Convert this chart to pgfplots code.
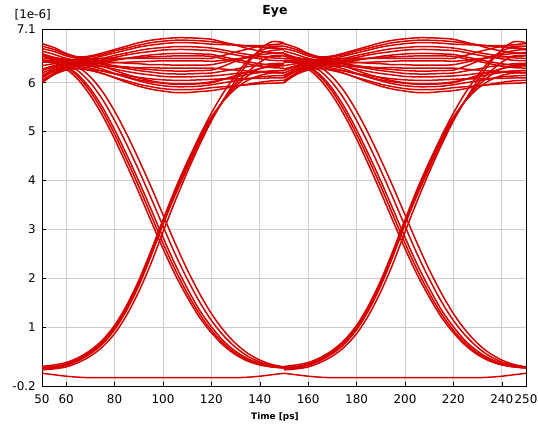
\documentclass[border=0pt]{standalone}
\usepackage{pgfplots}
\pgfplotsset{compat=1.18}
\usepackage{pgfplotstable}
\usepackage{fontspec}
\setmainfont{DejaVu Sans}

\definecolor{tracered}{RGB}{215,0,0}
\definecolor{gridgray}{RGB}{205,205,205}

% One unit interval of the eye (50..150 ps); xB places the same segments on 150..250 ps.
% f0..f4: falling edges, r1..r5: rising edges, lo: steady low, h1..h20: steady high.
\pgfplotstableread{
x   xB  f0   f1   f2   f3   f4   r1   r2   r3   r4   r5   lo    h1   h2   h3   h4   h5   h6   h7   h8   h9   h10  h11  h12  h13  h14  h15  h16  h17  h18  h19  h20
50  150 6.45 6.44 6.45 6.46 6.46 0.15 0.13 0.20 0.17 0.18 0.06  6.80 6.65 6.55 6.35 6.20 6.10 6.45 6.00 6.25 6.05 6.50 6.60 6.70 6.42 6.15 6.58 6.28 6.02 6.75 6.12
55  155 6.42 6.40 6.43 6.44 6.45 0.17 0.15 0.23 0.19 0.20 0.03  6.72 6.58 6.47 6.39 6.30 6.24 6.45 6.17 6.33 6.20 6.48 6.52 6.64 6.42 6.27 6.50 6.35 6.17 6.68 6.24
60  160 6.32 6.28 6.34 6.38 6.42 0.22 0.19 0.28 0.24 0.25 0.00  6.60 6.50 6.42 6.41 6.36 6.32 6.45 6.26 6.38 6.29 6.47 6.48 6.55 6.42 6.33 6.46 6.39 6.27 6.58 6.31
65  165 6.12 6.06 6.16 6.24 6.32 0.32 0.28 0.38 0.34 0.35 -0.02 6.53 6.46 6.41 6.42 6.38 6.35 6.44 6.29 6.39 6.30 6.47 6.45 6.50 6.43 6.37 6.43 6.39 6.29 6.52 6.33
70  170 5.82 5.74 5.88 6.00 6.12 0.46 0.41 0.53 0.49 0.50 -0.03 6.55 6.49 6.43 6.44 6.39 6.34 6.42 6.27 6.34 6.26 6.46 6.40 6.53 6.46 6.39 6.42 6.37 6.25 6.50 6.30
75  175 5.42 5.33 5.50 5.66 5.82 0.66 0.60 0.74 0.70 0.70 -0.03 6.61 6.55 6.47 6.45 6.40 6.34 6.38 6.24 6.28 6.19 6.44 6.34 6.58 6.50 6.42 6.39 6.33 6.19 6.50 6.24
80  180 4.95 4.85 5.04 5.23 5.42 0.95 0.87 1.04 0.99 1.00 -0.03 6.68 6.61 6.52 6.48 6.41 6.33 6.33 6.19 6.19 6.10 6.42 6.25 6.65 6.56 6.46 6.35 6.28 6.11 6.50 6.18
85  185 4.43 4.32 4.53 4.74 4.95 1.35 1.25 1.45 1.40 1.40 -0.03 6.75 6.67 6.57 6.50 6.42 6.32 6.29 6.15 6.11 6.01 6.40 6.17 6.71 6.61 6.50 6.32 6.23 6.04 6.50 6.12
90  190 3.88 3.76 3.99 4.21 4.43 1.85 1.73 1.96 1.90 1.90 -0.03 6.82 6.73 6.61 6.52 6.43 6.31 6.25 6.11 6.04 5.93 6.39 6.10 6.77 6.66 6.54 6.29 6.19 5.97 6.50 6.06
95  195 3.30 3.18 3.42 3.65 3.88 2.45 2.30 2.56 2.50 2.50 -0.03 6.87 6.77 6.64 6.53 6.44 6.31 6.22 6.08 5.98 5.87 6.37 6.04 6.82 6.70 6.57 6.27 6.16 5.92 6.50 6.02
100 200 2.72 2.61 2.84 3.07 3.30 3.10 2.95 3.20 3.15 3.15 -0.03 6.90 6.80 6.67 6.54 6.45 6.30 6.19 6.06 5.94 5.83 6.37 6.00 6.85 6.72 6.59 6.25 6.13 5.88 6.50 5.99
105 205 2.18 2.08 2.29 2.50 2.72 3.70 3.58 3.82 3.78 3.76 -0.03 6.92 6.82 6.68 6.55 6.45 6.30 6.18 6.05 5.92 5.80 6.36 5.98 6.87 6.74 6.60 6.24 6.12 5.86 6.50 5.97
110 210 1.70 1.62 1.80 1.99 2.18 4.25 4.17 4.38 4.36 4.31 -0.03 6.92 6.82 6.68 6.55 6.45 6.30 6.18 6.05 5.92 5.80 6.36 5.98 6.87 6.74 6.60 6.24 6.12 5.86 6.50 5.97
115 215 1.28 1.21 1.36 1.53 1.70 4.78 4.72 4.88 4.90 4.83 -0.03 6.91 6.81 6.67 6.55 6.45 6.30 6.19 6.06 5.93 5.82 6.36 5.99 6.86 6.73 6.59 6.25 6.13 5.87 6.50 5.98
120 220 0.94 0.89 1.01 1.14 1.28 5.25 5.22 5.30 5.38 5.27 -0.03 6.89 6.79 6.66 6.54 6.44 6.30 6.20 6.07 5.96 5.84 6.37 6.02 6.84 6.71 6.58 6.26 6.14 5.90 6.50 6.00
125 225 0.67 0.63 0.72 0.83 0.94 5.65 5.65 5.63 5.80 5.64 -0.03 6.83 6.78 6.62 6.49 6.46 6.28 6.24 6.08 6.00 5.88 6.42 6.07 6.81 6.67 6.53 6.34 6.16 5.92 6.56 6.07
130 230 0.47 0.44 0.51 0.59 0.67 5.98 6.05 5.88 6.15 5.93 -0.03 6.77 6.77 6.57 6.44 6.49 6.26 6.28 6.08 6.04 5.93 6.47 6.12 6.78 6.62 6.48 6.44 6.19 5.94 6.63 6.15
135 235 0.33 0.31 0.36 0.41 0.47 6.22 6.40 6.05 6.45 6.14 -0.02 6.70 6.76 6.53 6.39 6.51 6.24 6.33 6.09 6.08 5.97 6.53 6.17 6.75 6.58 6.43 6.53 6.21 5.96 6.69 6.22
140 240 0.24 0.23 0.26 0.29 0.33 6.42 6.68 6.15 6.65 6.29 0.00  6.65 6.76 6.49 6.34 6.53 6.22 6.36 6.09 6.12 6.01 6.57 6.21 6.73 6.54 6.39 6.60 6.23 5.98 6.75 6.29
145 245 0.19 0.19 0.20 0.22 0.24 6.55 6.84 6.20 6.72 6.36 0.03  6.62 6.75 6.46 6.31 6.54 6.21 6.39 6.10 6.14 6.04 6.60 6.24 6.71 6.51 6.36 6.66 6.24 5.99 6.78 6.33
150 250 0.17 0.17 0.17 0.18 0.19 6.56 6.82 6.20 6.68 6.38 0.06  6.60 6.75 6.45 6.30 6.55 6.20 6.40 6.10 6.15 6.05 6.62 6.25 6.70 6.50 6.35 6.68 6.25 6.00 6.80 6.35
}\eye

\begin{document}
\begin{tikzpicture}
\begin{axis}[
  name=ax,
  scale only axis,
  width=484bp, height=357bp,
  xmin=50, xmax=250, ymin=-0.2, ymax=7.1,
  xtick={50,60,80,100,120,140,160,180,200,220,240,250},
  xticklabels={50,60,80,100,120,140,160,180,200,220,240,250},
  ytick={-0.2,1,2,3,4,5,6,7.1},
  yticklabels={-0.2,1,2,3,4,5,6,7.1},
  xtick pos=bottom, ytick pos=left,
  tick align=inside,
  major tick length=3.5bp,
  tick style={black, line width=0.6pt},
  grid=major,
  major grid style={draw=gridgray, line width=0.7pt},
  axis line style={black, line width=0.9pt},
  tick label style={font=\fontsize{12}{14}\selectfont, inner sep=0pt},
  xticklabel style={anchor=north, yshift=-8bp},
  yticklabel style={anchor=east, xshift=-6bp},
  clip=true,
]
\pgfplotsinvokeforeach{h1,h2,h3,h4,h5,h6,h7,h8,h9,h10,h11,h12,h13,h14,h15,h16,h17,h18,h19,h20,r1,r2,r3,r4,r5,f0,f1,f2,f3,f4,lo}{
  \addplot[tracered, line width=1.5pt, smooth, no markers] table[x=x, y=#1]{\eye};
  \addplot[tracered, line width=1.5pt, smooth, no markers] table[x=xB, y=#1]{\eye};
}
\end{axis}
\node[font=\bfseries\fontsize{12.5}{14}\selectfont, anchor=base] at ([xshift=-9bp, yshift=14bp]ax.north) {Eye};
\node[font=\fontsize{12}{14}\selectfont, anchor=base east, inner sep=0pt] at ([xshift=9bp, yshift=10bp]ax.north west) {[1e-6]};
\node[font=\bfseries\fontsize{9}{11}\selectfont, anchor=base, inner sep=0pt] at ([xshift=-9bp, yshift=-34bp]ax.south) {Time [ps]};
\path ([shift={(-42bp,-38bp)}]ax.south west) rectangle ([shift={(12bp,29bp)}]ax.north east);
\end{tikzpicture}
\end{document}
